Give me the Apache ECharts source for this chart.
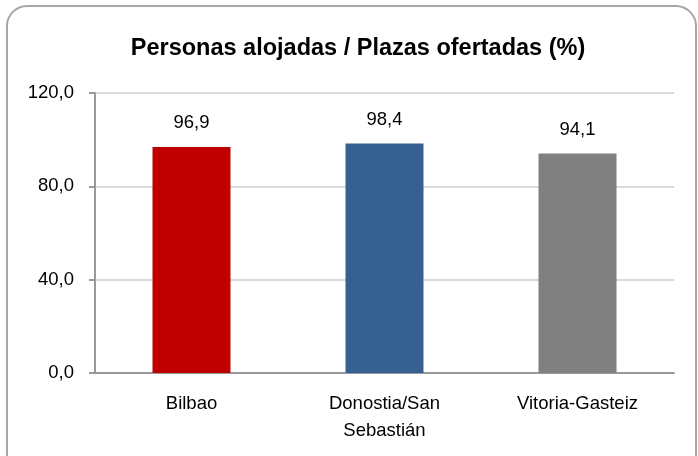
<!DOCTYPE html>
<html lang="es">
  <head>
    <meta charset="UTF-8" />
    <title>Personas alojadas / Plazas ofertadas</title>
    <script src="https://cdn.jsdelivr.net/npm/echarts@6.0.0/dist/echarts.min.js"></script>
    <style>
      html,
      body {
        margin: 0;
        padding: 0;
        background: #fff;
      }
      #echart {
        width: 698px;
        height: 456px;
      }
    </style>
  </head>
  <body>
    <div id="echart"></div>
    <script>
      const categories = ["Bilbao", "Donostia/San\nSebastián", "Vitoria-Gasteiz"];
      const values = [96.9, 98.4, 94.1];
      const barColors = ["#c00000", "#366092", "#808080"];
      const yTicks = [0, 40, 80, 120];

      const font = '"Liberation Sans", Arial, sans-serif';
      const comma = (v) => v.toFixed(1).replace(".", ",");

      const chart = echarts.init(document.getElementById("echart"));
      const option = {
        animation: false,
        title: {
          text: "Personas alojadas / Plazas ofertadas (%)",
          left: 353,
          top: 32,
          textAlign: "center",
          textStyle: {
            fontFamily: font,
            fontSize: 23.5,
            fontWeight: "bold",
            color: "#000",
          },
        },
        graphic: [
          {
            type: "rect",
            shape: { x: 7, y: 6, width: 689, height: 470, r: 20 },
            style: { fill: "none", stroke: "#a6a6a6", lineWidth: 2 },
            silent: true,
          },
        ],
        grid: {
          left: 95,
          right: 24,
          top: 93,
          bottom: 83,
        },
        xAxis: {
          type: "category",
          data: categories,
          axisLine: { lineStyle: { color: "#999", width: 2 } },
          axisTick: { length: 6, lineStyle: { color: "#999", width: 2 } },
          axisLabel: {
            margin: 17,
            fontFamily: font,
            fontSize: 18.5,
            color: "#000",
            lineHeight: 27,
          },
        },
        yAxis: {
          type: "value",
          min: yTicks[0],
          max: yTicks[yTicks.length - 1],
          interval: yTicks[1] - yTicks[0],
          axisLine: { show: true, lineStyle: { color: "#999", width: 2 } },
          axisTick: { show: true, length: 6, lineStyle: { color: "#999", width: 2 } },
          splitLine: { lineStyle: { color: "#d9d9d9", width: 2 } },
          axisLabel: {
            margin: 21,
            fontFamily: font,
            fontSize: 18.5,
            color: "#000",
            formatter: (v) => comma(v),
          },
        },
        series: [
          {
            type: "bar",
            barWidth: 78,
            data: values.map((v, i) => ({
              value: v,
              itemStyle: { color: barColors[i] },
            })),
            label: {
              show: true,
              position: "top",
              distance: 14,
              fontFamily: font,
              fontSize: 18.5,
              color: "#000",
              formatter: (p) => comma(p.value),
            },
          },
        ],
      };
      chart.setOption(option);
    </script>
  </body>
</html>
